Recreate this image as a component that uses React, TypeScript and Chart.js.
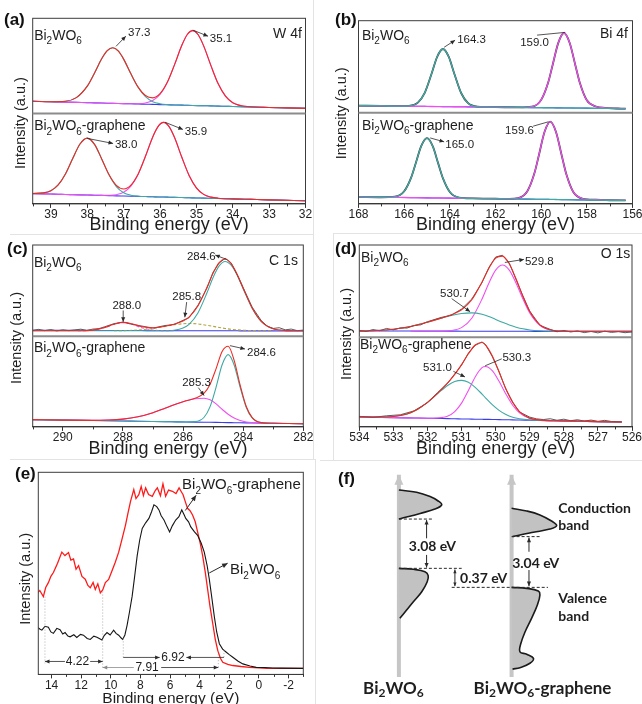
import React, { useEffect, useRef } from 'react';
import { Chart, registerables } from 'chart.js';

Chart.register(...registerables);

const SANS = '"Liberation Sans", Arial, Helvetica, sans-serif';
const CAL = 'Lato, "Open Sans", "DejaVu Sans", sans-serif';
Chart.defaults.font.family = SANS;
Chart.defaults.color = '#222';

// ---------------- (a) W 4f ----------------
const aTopX = [39.5, 39.0, 38.6, 38.3, 38.0, 37.8, 37.6, 37.45, 37.3, 37.15, 37.0, 36.8, 36.6, 36.4, 36.2, 36.0, 35.8, 35.6, 35.4, 35.25, 35.1, 34.95, 34.8, 34.6, 34.4, 34.2, 34.0, 33.6, 33.0, 32.5, 32.0];
const aTopBase = [12.8, 12.3, 11.9, 11.6, 11.3, 11.1, 10.9, 10.75, 10.6, 10.45, 10.3, 10.1, 9.9, 9.7, 9.5, 9.3, 9.1, 8.9, 8.7, 8.55, 8.4, 8.25, 8.1, 7.9, 7.7, 7.5, 7.3, 6.9, 6.3, 5.8, 5.3];
const aTopTeal = [12.8, 12.3, 12.8, 16.6, 28.7, 42.6, 57.7, 66.0, 69.0, 65.7, 57.1, 41.6, 27.3, 17.6, 12.4, 10.2, 9.3, 8.9, 8.7, 8.55, 8.4, 8.25, 8.1, 7.9, 7.7, 7.5, 7.3, 6.9, 6.3, 5.8, 5.3];
const aTopMag = [12.8, 12.3, 11.9, 11.6, 11.3, 11.1, 10.9, 10.75, 10.6, 10.45, 10.3, 10.1, 10.2, 10.9, 13.5, 19.9, 32.5, 51.3, 71.6, 83.0, 87.0, 82.7, 71.0, 50.3, 31.1, 18.1, 11.3, 7.2, 6.3, 5.8, 5.3];
const aTopEnv = [12.8, 12.3, 12.8, 16.6, 28.7, 42.6, 57.7, 66.0, 69.0, 65.7, 57.1, 41.6, 27.6, 18.8, 16.4, 20.8, 32.7, 51.3, 71.6, 83.0, 87.0, 82.7, 71.0, 50.3, 31.1, 18.1, 11.3, 7.2, 6.3, 5.8, 5.3];

const aBotX = [39.5, 39.2, 39.0, 38.8, 38.6, 38.4, 38.2, 38.0, 37.8, 37.6, 37.4, 37.2, 37.0, 36.8, 36.6, 36.4, 36.2, 36.05, 35.9, 35.75, 35.6, 35.4, 35.2, 35.0, 34.8, 34.6, 34.4, 34.0, 33.5, 33.0, 32.0];
const aBotBase = [11.4, 11.1, 10.9, 10.7, 10.4, 10.2, 10.0, 9.8, 9.6, 9.4, 9.2, 8.9, 8.7, 8.5, 8.3, 8.1, 7.9, 7.7, 7.6, 7.4, 7.2, 7.0, 6.8, 6.6, 6.4, 6.2, 6.0, 5.5, 5.0, 4.5, 3.4];
const aBotTeal = [11.5, 12.2, 14.6, 21.0, 33.1, 50.2, 66.2, 72.7, 65.8, 49.4, 31.9, 19.2, 12.4, 9.6, 8.5, 8.1, 7.9, 7.7, 7.6, 7.4, 7.2, 7.0, 6.8, 6.6, 6.4, 6.2, 6.0, 5.5, 5.0, 4.5, 3.4];
const aBotMag = [11.4, 11.1, 10.9, 10.7, 10.4, 10.2, 10.0, 9.8, 9.6, 9.4, 9.5, 10.2, 12.8, 19.7, 32.9, 52.6, 74.0, 85.7, 90.1, 85.4, 73.3, 51.5, 31.4, 17.8, 10.5, 7.5, 6.3, 5.5, 5.0, 4.5, 3.4];
const aBotEnv = [11.5, 12.2, 14.6, 21.0, 33.1, 50.2, 66.2, 72.7, 65.8, 49.4, 32.2, 20.5, 16.5, 20.8, 33.1, 52.6, 74.0, 85.7, 90.1, 85.4, 73.3, 51.5, 31.4, 17.8, 10.5, 7.5, 6.3, 5.5, 5.0, 4.5, 3.4];

// ---------------- (b) Bi 4f ----------------
const bTopX = [168, 167, 166.2, 165.8, 165.4, 165.1, 164.8, 164.55, 164.3, 164.05, 163.8, 163.5, 163.2, 162.8, 162.0, 161.0, 160.4, 160.0, 159.7, 159.5, 159.25, 159.0, 158.75, 158.5, 158.3, 158.0, 157.6, 157.2, 156.5, 156.3];
const bTopBase = [7.6, 7.3, 7.1, 7.0, 6.9, 6.8, 6.7, 6.65, 6.6, 6.5, 6.4, 6.4, 6.3, 6.2, 6.0, 5.7, 5.5, 5.4, 5.3, 5.3, 5.2, 5.1, 5.1, 5.0, 5.0, 4.9, 4.7, 4.6, 4.4, 4.3];
const bTopTeal = [7.6, 7.3, 7.1, 7.4, 10.9, 21.5, 42.3, 61.0, 69.2, 60.8, 42.0, 21.1, 10.3, 6.6, 6.0, 5.7, 5.5, 5.4, 5.3, 5.3, 5.2, 5.1, 5.1, 5.0, 5.0, 4.9, 4.7, 4.6, 4.4, 4.3];
const bTopMag = [7.6, 7.3, 7.1, 7.0, 6.9, 6.8, 6.7, 6.65, 6.6, 6.5, 6.4, 6.4, 6.3, 6.2, 6.0, 5.7, 6.5, 13.9, 32.2, 51.6, 75.9, 86.6, 75.8, 51.3, 31.9, 13.4, 6.7, 5.2, 4.4, 4.3];
const bTopEnv = [7.6, 7.3, 7.1, 7.4, 10.9, 21.5, 42.3, 61.0, 69.2, 60.8, 42.0, 21.1, 10.3, 6.6, 6.0, 5.7, 6.5, 13.9, 32.2, 51.6, 75.9, 86.6, 75.8, 51.3, 31.9, 13.4, 6.7, 5.2, 4.4, 4.3];

const bBotX = [168, 167, 166.4, 166.0, 165.7, 165.5, 165.25, 165.0, 164.75, 164.5, 164.3, 164.0, 163.6, 163.0, 162.0, 161.4, 161.0, 160.6, 160.3, 160.1, 159.85, 159.6, 159.35, 159.1, 158.9, 158.6, 158.2, 157.6, 157.0, 156.3];
const bBotBase = [7.6, 7.3, 7.1, 7.0, 6.9, 6.8, 6.7, 6.6, 6.5, 6.5, 6.4, 6.3, 6.2, 6.0, 5.7, 5.5, 5.3, 5.2, 5.1, 5.0, 5.0, 4.9, 4.8, 4.7, 4.6, 4.5, 4.4, 4.2, 4.0, 3.8];
const bBotTeal = [7.6, 7.3, 7.9, 13.8, 28.5, 43.9, 63.5, 72.0, 63.3, 43.6, 28.0, 13.1, 7.0, 6.0, 5.7, 5.5, 5.3, 5.2, 5.1, 5.0, 5.0, 4.9, 4.8, 4.7, 4.6, 4.5, 4.4, 4.2, 4.0, 3.8];
const bBotMag = [7.6, 7.3, 7.1, 7.0, 6.9, 6.8, 6.7, 6.6, 6.5, 6.5, 6.4, 6.3, 6.2, 6.0, 5.7, 5.5, 6.3, 14.1, 33.2, 53.4, 79.0, 90.1, 78.8, 53.1, 32.7, 13.4, 5.9, 4.6, 4.0, 3.8];
const bBotEnv = [7.6, 7.3, 7.9, 13.8, 28.5, 43.9, 63.5, 72.0, 63.3, 43.6, 28.0, 13.1, 7.0, 6.0, 5.7, 5.5, 6.3, 14.1, 33.2, 53.4, 79.0, 90.1, 78.8, 53.1, 32.7, 13.4, 5.9, 4.6, 4.0, 3.8];

// ---------------- (c) C 1s ----------------
const cTopX = [291, 290.5, 290, 289.5, 289, 288.6, 288.3, 288.0, 287.7, 287.4, 287.0, 286.6, 286.3, 286.0, 285.8, 285.5, 285.2, 285.0, 284.8, 284.6, 284.4, 284.2, 284.0, 283.7, 283.4, 283.0, 282.5, 282];
const cTopBase = [6.6, 6.6, 6.5, 6.5, 6.4, 6.4, 6.4, 6.3, 6.3, 6.3, 6.2, 6.2, 6.2, 6.1, 6.1, 6.1, 6.1, 6.0, 6.0, 6.0, 6.0, 6.0, 5.9, 5.9, 5.9, 5.9, 5.8, 5.8];
const cTopTeal = [6.0, 6.0, 6.0, 6.0, 6.0, 6.0, 6.0, 6.0, 6.0, 6.0, 6.0, 6.0, 6.6, 9.0, 13.0, 25.9, 47.9, 64.4, 77.1, 82.0, 77.9, 66.9, 52.1, 30.7, 16.3, 8.2, 6.2, 6.0];
const cTopYel = [null, null, null, null, null, null, 6.0, 6.2, 6.5, 7.1, 8.6, 10.9, 12.6, 13.8, 14.0, 13.5, 12.0, 10.9, 9.7, 8.6, 7.7, 7.1, 6.6, 6.3, 6.1, 6.0, null, null];
const cTopC288 = [null, null, null, 6.0, 6.8, 9.7, 13.2, 15.0, 13.2, 9.7, 6.8, 6.1, 6.0, null, null, null, null, null, null, null, null, null, null, null, null, null, null, null];
const cTopEnv = [6.0, 6.0, 6.0, 6.0, 6.8, 9.7, 13.2, 15.2, 13.7, 10.8, 9.4, 11.0, 13.2, 16.8, 21.0, 33.4, 53.9, 69.3, 80.8, 84.6, 79.6, 68.0, 52.7, 31.0, 16.4, 8.2, 6.2, 6.0];
const cTopRawX = [291, 290.8, 290.6, 290.4, 290.2, 290.0, 289.8, 289.6, 289.4, 289.2, 289.0, 288.8, 288.6, 288.3, 288.0, 287.7, 287.4, 287.0, 286.6, 286.3, 286.0, 285.8, 285.5, 285.2, 285.0, 284.8, 284.6, 284.4, 284.2, 284.0, 283.7, 283.4, 283.2, 283.0, 282.8, 282.6, 282.4, 282.2, 282.0];
const cTopRawY = [6.5, 7.6, 6.2, 7.4, 5.9, 7.1, 6.2, 7.0, 7.8, 6.4, 7.9, 8.4, 10.5, 13.8, 15.6, 13.1, 11.4, 9.0, 11.8, 12.9, 17.5, 20.4, 34.2, 53.0, 70.1, 80.2, 85.3, 80.4, 67.5, 53.4, 31.9, 17.3, 11.0, 8.6, 9.4, 7.1, 7.9, 6.2, 6.8];

const cBotX = [291, 290, 289, 288.5, 288, 287.5, 287, 286.6, 286.2, 285.9, 285.6, 285.3, 285.1, 284.9, 284.7, 284.5, 284.3, 284.1, 283.9, 283.7, 283.4, 283.0, 282.5, 282];
const cBotBase = [8.0, 7.5, 7.0, 6.75, 6.5, 6.25, 6.0, 5.8, 5.6, 5.45, 5.3, 5.15, 5.05, 4.95, 4.85, 4.75, 4.65, 4.55, 4.45, 4.35, 4.2, 4.0, 3.75, 3.5];
const cBotMag = [8.0, 7.5, 7.2, 7.55, 8.6, 11.15, 15.7, 20.5, 25.6, 28.85, 31.0, 31.65, 29.85, 25.35, 19.45, 13.95, 9.75, 7.05, 5.45, 4.75, 4.2, 4.0, 3.75, 3.5];
const cBotTeal = [8.0, 7.5, 7.0, 6.75, 6.5, 6.25, 6.0, 5.8, 5.6, 5.45, 5.8, 10.65, 22.35, 43.95, 68.55, 79.75, 68.35, 43.55, 21.75, 9.85, 4.7, 4.0, 3.75, 3.5];
const cBotEnv = [8.0, 7.5, 7.2, 7.55, 8.6, 11.15, 15.7, 20.5, 25.6, 28.85, 31.5, 37.15, 47.15, 64.35, 83.15, 88.95, 73.45, 46.05, 22.75, 10.25, 4.7, 4.0, 3.75, 3.5];

// ---------------- (d) O 1s ----------------
const dTopX = [534, 533.5, 533, 532.5, 532, 531.6, 531.3, 531.0, 530.7, 530.4, 530.2, 530.0, 529.8, 529.6, 529.4, 529.2, 529.0, 528.7, 528.4, 528.0, 527.5, 527, 526];
const dTopBase = [6.9, 6.9, 6.8, 6.8, 6.7, 6.7, 6.7, 6.6, 6.6, 6.6, 6.6, 6.5, 6.5, 6.5, 6.5, 6.5, 6.5, 6.4, 6.4, 6.4, 6.3, 6.3, 6.2];
const dTopTeal = [6.7, 7.3, 8.7, 11.7, 16.4, 20.8, 23.7, 25.8, 26.5, 25.0, 22.5, 19.4, 16.2, 13.3, 11.0, 9.2, 8.0, 7.1, 6.7, 6.5, 6.5, 6.5, 6.5];
const dTopMag = [null, null, null, 6.5, 6.5, 6.5, 7.3, 10.5, 20.7, 41.5, 58.6, 72.8, 78.3, 72.8, 58.6, 41.5, 26.4, 12.9, 7.9, 6.6, 6.5, 6.5, 6.5];
const dTopEnv = [6.7, 7.3, 8.7, 11.7, 16.4, 20.8, 24.5, 29.8, 40.7, 60.0, 74.6, 85.7, 88.0, 79.6, 63.1, 44.2, 27.9, 13.5, 8.1, 6.6, 6.5, 6.5, 6.5];
const dTopRawX = [534, 533.8, 533.6, 533.4, 533.2, 533.0, 532.8, 532.6, 532.4, 532.2, 532.0, 531.6, 531.3, 531.0, 530.7, 530.4, 530.2, 530.0, 529.8, 529.6, 529.4, 529.2, 529.0, 528.7, 528.4, 528.2, 528.0, 527.8, 527.6, 527.4, 527.2, 527.0, 526.8, 526.6, 526.4, 526.2, 526.0];
const dTopRawY = [7.5, 6.3, 8.4, 7.2, 9.6, 8.1, 10.2, 10.0, 12.6, 13.5, 16.9, 21.5, 24.0, 30.6, 41.5, 59.2, 75.6, 87.0, 88.9, 80.3, 62.4, 44.9, 28.4, 13.0, 8.6, 6.0, 7.4, 5.8, 6.9, 5.1, 6.3, 4.8, 6.6, 5.3, 6.1, 5.0, 5.9];

const dBotX = [534, 533.5, 533, 532.6, 532.3, 532.0, 531.7, 531.4, 531.2, 531.0, 530.8, 530.6, 530.4, 530.3, 530.1, 529.9, 529.7, 529.5, 529.3, 529.0, 528.7, 528.3, 528, 527.5, 527, 526.3];
const dBotBase = [11.2, 10.8, 10.4, 10.1, 9.9, 9.7, 9.5, 9.2, 9.1, 8.9, 8.8, 8.6, 8.5, 8.4, 8.3, 8.1, 8.0, 7.8, 7.7, 7.4, 7.2, 6.9, 6.7, 6.3, 5.9, 5.4];
const dBotTeal = [11.2, 11.0, 11.6, 14.5, 19.5, 27.4, 37.3, 46.5, 50.6, 51.9, 49.8, 44.2, 36.6, 32.5, 24.8, 18.4, 13.8, 10.8, 9.1, 7.8, 7.2, 6.9, 6.7, 6.3, 5.9, 5.4];
const dBotMag = [11.2, 10.8, 10.4, 10.1, 9.9, 9.7, 10.0, 12.2, 17.1, 26.5, 40.6, 55.8, 66.1, 67.4, 62.8, 50.9, 36.7, 24.2, 15.7, 9.4, 7.6, 6.9, 6.7, 6.3, 5.9, 5.4];
const dBotEnv = [11.2, 11.0, 11.6, 14.5, 19.5, 27.4, 37.8, 49.5, 58.6, 69.5, 81.6, 91.4, 94.2, 91.5, 79.3, 61.2, 42.5, 27.2, 17.1, 9.8, 7.6, 6.9, 6.7, 6.3, 5.9, 5.4];
const dBotRawX = [534, 533.6, 533.2, 532.8, 532.4, 532.0, 531.7, 531.4, 531.2, 531.0, 530.8, 530.6, 530.4, 530.3, 530.1, 529.9, 529.7, 529.5, 529.3, 529.0, 528.8, 528.6, 528.4, 528.2, 528.0, 527.8, 527.6, 527.4, 527.2, 527.0, 526.8, 526.6, 526.3];
const dBotRawY = [11.8, 10.6, 12.4, 13.5, 17.8, 27.0, 38.4, 49.0, 59.1, 69.0, 82.3, 91.0, 94.8, 92.0, 78.6, 61.8, 42.0, 27.8, 16.6, 10.9, 9.0, 8.2, 9.1, 7.4, 8.6, 6.9, 8.0, 6.5, 7.6, 6.2, 7.3, 6.0, 5.6];

// ---------------- (e) valence band ----------------
const eRedX = [15.0, 14.8, 14.56, 14.4, 14.22, 14.05, 13.88, 13.6, 13.31, 13.1, 12.86, 12.7, 12.52, 12.35, 12.18, 11.95, 11.73, 11.55, 11.39, 11.2, 11.05, 10.88, 10.71, 10.55, 10.37, 10.15, 9.92, 9.7, 9.47, 9.25, 9.01, 8.85, 8.67, 8.45, 8.3, 8.11, 7.95, 7.8, 7.65, 7.45, 7.2, 7.0, 6.86, 6.65, 6.48, 6.3, 6.1, 5.84, 5.6, 5.39, 5.25, 5.12, 4.95, 4.82, 4.65, 4.48, 4.3, 4.14, 3.95, 3.8, 3.62, 3.46, 3.3, 3.12, 2.95, 2.78, 2.6, 2.44, 2.1, 1.76, 1.2, 0.63, 0.0, -0.5, -1.5, -3.0];
const eRedY = [40.0, 41.5, 38.5, 43.0, 45.4, 48.5, 50.4, 55.0, 60.5, 58.8, 60.3, 56.5, 57.1, 52.0, 53.8, 48.5, 47.1, 44.0, 42.9, 45.5, 42.0, 44.8, 40.3, 41.8, 45.4, 47.0, 51.3, 55.5, 60.5, 66.8, 73.9, 79.5, 85.6, 91.5, 87.0, 88.9, 93.0, 88.5, 92.3, 89.0, 88.1, 91.0, 92.3, 88.4, 94.3, 88.1, 91.2, 90.6, 89.5, 92.3, 90.5, 88.9, 85.0, 82.2, 81.0, 78.9, 75.5, 70.5, 64.5, 58.8, 50.5, 42.0, 33.5, 25.3, 17.5, 11.9, 8.0, 6.0, 5.0, 4.4, 3.9, 3.5, 3.2, 3.0, 3.0, 3.0];
const eBlackX = [15.0, 14.8, 14.66, 14.45, 14.22, 14.05, 13.88, 13.65, 13.43, 13.25, 13.09, 12.9, 12.75, 12.5, 12.3, 12.05, 11.85, 11.6, 11.39, 11.15, 10.94, 10.75, 10.6, 10.45, 10.26, 10.05, 9.81, 9.65, 9.47, 9.3, 9.2, 9.05, 8.9, 8.75, 8.56, 8.4, 8.22, 8.05, 7.88, 7.65, 7.43, 7.25, 7.09, 6.9, 6.75, 6.6, 6.41, 6.2, 6.03, 5.85, 5.62, 5.4, 5.21, 5.05, 4.94, 4.75, 4.6, 4.35, 4.14, 3.9, 3.69, 3.5, 3.35, 3.18, 3.01, 2.85, 2.67, 2.45, 2.22, 2.0, 1.76, 1.4, 1.08, 0.6, 0.18, -0.4, -0.95, -1.5, -3.0];
const eBlackY = [23.6, 22.5, 21.9, 23.8, 23.3, 21.0, 20.3, 22.8, 22.1, 20.0, 20.7, 19.0, 18.6, 19.6, 18.3, 19.8, 19.4, 17.8, 17.3, 18.9, 18.4, 17.6, 17.0, 19.2, 20.7, 19.5, 21.9, 20.3, 19.4, 18.0, 17.3, 19.5, 24.4, 30.5, 38.7, 48.0, 58.8, 66.5, 72.2, 75.0, 77.2, 80.5, 83.9, 83.0, 81.4, 78.5, 76.4, 73.0, 70.5, 73.5, 76.4, 78.0, 81.4, 79.0, 77.2, 75.5, 73.0, 70.5, 68.8, 65.0, 60.5, 54.0, 47.1, 38.0, 28.6, 21.0, 15.2, 12.5, 11.1, 9.8, 8.5, 6.5, 5.2, 4.2, 3.5, 3.4, 3.2, 3.1, 3.0];
const eEdges = [14.45, 10.55, 9.16, 2.36, 2.74];
const eGaps = ['4.22', '6.92', '7.91'];

// ---------------- (f) band schematic ----------------
const fLeftCBx = [24.5, 30.0, 34.2, 36.7, 37.8, 35.7, 31.1, 26.9, 24.5];
const fLeftCBy = [87.7, 86.8, 85.0, 83.2, 81.6, 79.9, 78.1, 76.6, 75.8];
const fLeftVBx = [24.5, 29.0, 32.6, 33.6, 33.3, 31.6, 29.0, 26.9, 24.8];
const fLeftVBy = [55.6, 55.2, 54.2, 52.6, 50.1, 46.0, 41.9, 38.5, 35.1];
const fRightCBx = [59.5, 64.2, 68.3, 71.9, 73.5, 71.4, 66.3, 62.1, 59.8];
const fRightCBy = [80.2, 79.1, 77.5, 75.0, 73.1, 71.7, 70.4, 69.3, 68.6];
const fRightVBx = [59.5, 64.2, 67.8, 68.3, 67.5, 65.7, 63.7, 62.4, 62.1, 64.2, 66.3, 65.2, 62.1, 59.8];
const fRightVBy = [47.8, 47.4, 46.3, 44.7, 40.6, 35.1, 29.6, 24.9, 21.4, 20.4, 18.7, 16.7, 14.9, 14.3];
const fGaps = ['3.08 eV', '0.37 eV', '3.04 eV'];

// ---------------- colours ----------------
const C_RED = '#ee2a24';
const C_RAW = '#4a4a4a';
const C_TEAL = '#3fa9a3';
const C_MAG = '#f04ff0';
const C_BASE = '#3a3af0';
const C_YEL = '#b0a43c';

// ---------------- helpers ----------------
function drawRich(ctx: CanvasRenderingContext2D, s: string, x: number, y: number, size: number, align: string, base: CanvasTextBaseline, bold: boolean, family: string) {
  const parts: { t: string; sub: boolean; w: number }[] = [];
  for (let i = 0; i < s.length; i++) {
    if (s[i] === '_' && i + 1 < s.length) {
      parts.push({ t: s[i + 1], sub: true, w: 0 });
      i++;
    } else {
      const last = parts[parts.length - 1];
      if (last && !last.sub) last.t += s[i];
      else parts.push({ t: s[i], sub: false, w: 0 });
    }
  }
  const fnt = (sub: boolean) => `${bold ? 'bold ' : ''}${sub ? Math.round(size * 0.68) : size}px ${family}`;
  let total = 0;
  for (const p of parts) {
    ctx.font = fnt(p.sub);
    p.w = ctx.measureText(p.t).width;
    total += p.w;
  }
  let cx = align === 'left' ? x : align === 'right' ? x - total : x - total / 2;
  ctx.textAlign = 'left';
  ctx.textBaseline = base;
  for (const p of parts) {
    ctx.font = fnt(p.sub);
    ctx.fillText(p.t, cx, y + (p.sub ? size * 0.3 : 0));
    cx += p.w;
  }
}

function arrowHead(ctx: CanvasRenderingContext2D, x1: number, y1: number, x2: number, y2: number, size: number) {
  const ang = Math.atan2(y2 - y1, x2 - x1);
  ctx.beginPath();
  ctx.moveTo(x2, y2);
  ctx.lineTo(x2 - size * Math.cos(ang - 0.42), y2 - size * Math.sin(ang - 0.42));
  ctx.lineTo(x2 - size * Math.cos(ang + 0.42), y2 - size * Math.sin(ang + 0.42));
  ctx.closePath();
  ctx.fill();
}

type Ann = {
  k: 't' | 'a';
  ax?: string;
  x: number; y: number; x2?: number; y2?: number;
  s?: string; size?: number; align?: string; base?: CanvasTextBaseline; bold?: boolean; fam?: string;
  head?: 'end' | 'both' | 'none'; color?: string; lw?: number; dash?: number[]; hs?: number; under?: boolean;
};

const T = (ax: string, x: number, y: number, s: string, extra: Partial<Ann> = {}): Ann => ({ k: 't', ax, x, y, s, size: 11.5, align: 'left', base: 'middle', ...extra });
const A = (ax: string, x: number, y: number, x2: number, y2: number, extra: Partial<Ann> = {}): Ann => ({ k: 'a', ax, x, y, x2, y2, head: 'end', ...extra });

type Deco = {
  frame?: boolean; divider?: boolean; minor?: number; step?: number;
  ann?: Ann[]; label?: string; lx?: number; ly?: number; ydx?: number; ydy?: number;
  fills?: { index: number; color: string }[];
};

function decoPlugin(cfg: Deco) {
  const drawAnn = (chart: any, under: boolean) => {
    const ctx: CanvasRenderingContext2D = chart.ctx;
    const xs = chart.scales.x;
    for (const n of cfg.ann || []) {
      if (!!n.under !== under) continue;
      const ys = chart.scales[n.ax || 'y'];
      const px = xs.getPixelForValue(n.x);
      const py = ys.getPixelForValue(n.y);
      ctx.save();
      if (n.k === 't') {
        ctx.fillStyle = n.color || '#1e1e1e';
        drawRich(ctx, n.s || '', px, py, n.size || 12, n.align || 'left', n.base || 'middle', !!n.bold, n.fam || SANS);
      } else {
        const qx = xs.getPixelForValue(n.x2);
        const qy = ys.getPixelForValue(n.y2);
        const col = n.color || '#2a2a2a';
        ctx.strokeStyle = col;
        ctx.fillStyle = col;
        ctx.lineWidth = n.lw || 0.8;
        ctx.setLineDash(n.dash || []);
        ctx.beginPath();
        ctx.moveTo(px, py);
        ctx.lineTo(qx, qy);
        ctx.stroke();
        ctx.setLineDash([]);
        const hs = n.hs || 5;
        if (n.head === 'end' || n.head === 'both') arrowHead(ctx, px, py, qx, qy, hs);
        if (n.head === 'both') arrowHead(ctx, qx, qy, px, py, hs);
      }
      ctx.restore();
    }
  };
  return {
    id: 'deco',
    beforeDatasetsDraw(chart: any) {
      drawAnn(chart, true);
      const ctx: CanvasRenderingContext2D = chart.ctx;
      for (const f of cfg.fills || []) {
        const pts = chart.getDatasetMeta(f.index).data as any[];
        if (!pts.length) continue;
        ctx.save();
        ctx.fillStyle = f.color;
        ctx.beginPath();
        ctx.moveTo(pts[0].x, pts[0].y);
        for (let i = 1; i < pts.length; i++) {
          const p = pts[i - 1];
          const c = pts[i];
          if (p.cp2x !== undefined && c.cp1x !== undefined) ctx.bezierCurveTo(p.cp2x, p.cp2y, c.cp1x, c.cp1y, c.x, c.y);
          else ctx.lineTo(c.x, c.y);
        }
        ctx.closePath();
        ctx.fill();
        ctx.restore();
      }
    },
    afterDraw(chart: any) {
      const ctx: CanvasRenderingContext2D = chart.ctx;
      const a = chart.chartArea;
      ctx.save();
      if (cfg.frame) {
        ctx.strokeStyle = '#3c3c3c';
        ctx.lineWidth = 1;
        ctx.strokeRect(a.left, a.top, a.right - a.left, a.bottom - a.top);
      }
      if (cfg.divider && chart.scales.yTop) {
        const y = chart.scales.yTop.bottom;
        ctx.strokeStyle = '#8c8c8c';
        ctx.lineWidth = 2;
        ctx.beginPath();
        ctx.moveTo(a.left, y);
        ctx.lineTo(a.right, y);
        ctx.stroke();
      }
      if (cfg.minor && cfg.step) {
        const xs = chart.scales.x;
        ctx.strokeStyle = '#333';
        ctx.lineWidth = 1;
        const n0 = Math.ceil(xs.min / cfg.minor - 1e-9);
        const n1 = Math.floor(xs.max / cfg.minor + 1e-9);
        for (let n = n0; n <= n1; n++) {
          const v = n * cfg.minor;
          const r = v / cfg.step;
          if (Math.abs(r - Math.round(r)) < 1e-6) continue;
          const px = Math.round(xs.getPixelForValue(v)) + 0.5;
          ctx.beginPath();
          ctx.moveTo(px, a.bottom);
          ctx.lineTo(px, a.bottom + 2.5);
          ctx.stroke();
        }
      }
      if (cfg.ydx !== undefined) {
        ctx.save();
        ctx.translate(a.left - cfg.ydx, (a.top + a.bottom) / 2 + (cfg.ydy || 0));
        ctx.rotate(-Math.PI / 2);
        ctx.fillStyle = '#1e1e1e';
        ctx.font = `14.5px ${SANS}`;
        ctx.textAlign = 'center';
        ctx.textBaseline = 'middle';
        ctx.fillText('Intensity (a.u.)', 0, 0);
        ctx.restore();
      }
      if (cfg.label) {
        ctx.fillStyle = '#111';
        ctx.font = `bold 17px ${SANS}`;
        ctx.textAlign = 'left';
        ctx.textBaseline = 'top';
        ctx.fillText(cfg.label, cfg.lx || 0, cfg.ly || 0);
      }
      ctx.restore();
      drawAnn(chart, false);
    },
  };
}

function series(xs: number[], ys: (number | null)[], color: string, axis: string, width: number, dash?: number[], straight?: boolean) {
  return {
    data: xs.map((x, i) => ({ x, y: ys[i] })),
    borderColor: color,
    backgroundColor: color,
    borderWidth: width,
    borderDash: dash || [],
    yAxisID: axis,
    xAxisID: 'x',
    pointRadius: 0,
    fill: false,
    tension: 0,
    cubicInterpolationMode: straight ? 'default' : 'monotone',
  };
}

type Sub = {
  x: number[]; env: number[]; envColor: string; base: number[]; envBelow?: boolean;
  comps: { y: (number | null)[]; color: string; dash?: number[] }[];
  rawX?: number[]; rawY?: number[];
};

function subSets(s: Sub, axis: string) {
  const out: any[] = [];
  if (!s.envBelow) out.push(series(s.x, s.env, s.envColor, axis, 1.1));
  if (s.rawX && s.rawY) out.push(series(s.rawX, s.rawY, C_RAW, axis, 0.9, undefined, true));
  for (const c of s.comps) out.push(series(s.x, c.y, c.color, axis, s.envBelow ? 1.3 : 1.1, c.dash));
  if (s.envBelow) out.push(series(s.x, s.env, s.envColor, axis, 1.8));
  out.push(series(s.x, s.base, C_BASE, axis, 1.1));
  return out;
}

const xScale = (min: number, max: number, step: number, titleSize: number, h: number) => ({
  type: 'linear',
  min,
  max,
  reverse: true,
  ticks: { stepSize: step, includeBounds: false, autoSkip: false, maxRotation: 0, minRotation: 0, padding: 0, font: { size: 12, family: SANS }, color: '#222' },
  grid: { display: true, drawOnChartArea: false, drawTicks: true, tickLength: 4, color: '#333', lineWidth: 1 },
  border: { display: true, color: '#333', width: 1 },
  title: { display: true, text: 'Binding energy (eV)', font: { size: titleSize, family: SANS }, color: '#1e1e1e', padding: 0 },
  afterFit: (s: any) => {
    s.height = h;
    s.paddingLeft = 0;
    s.paddingRight = 0;
  },
});

const yScale = (w: number, weight?: number) => ({
  type: 'linear',
  position: 'left',
  ...(weight !== undefined ? { stack: 'p', stackWeight: weight } : {}),
  min: 0,
  max: 100,
  ticks: { display: false },
  grid: { display: false, drawTicks: false },
  border: { display: false },
  afterFit: (s: any) => {
    s.width = w;
  },
});

type XpsSpec = {
  xmin: number; xmax: number; step: number; minor: number;
  W: number; l: number; r: number; t: number; d: number; b: number; titleC: number;
  top: Sub; bot: Sub; ann: Ann[]; label: string; lx: number; ly: number; ydx: number; ydy: number;
};

function xpsConfig(o: XpsSpec) {
  const titleSize = 18;
  const xH = o.titleC + titleSize * 0.6 - o.b;
  return {
    type: 'line',
    data: { datasets: [...subSets(o.top, 'yTop'), ...subSets(o.bot, 'yBot')] },
    options: {
      responsive: false,
      animation: false,
      events: [],
      layout: { padding: { left: 0, top: o.t, right: o.W - o.r, bottom: 0 } },
      plugins: { legend: { display: false }, tooltip: { enabled: false } },
      scales: {
        x: xScale(o.xmin, o.xmax, o.step, titleSize, xH),
        yBot: yScale(o.l, o.b - o.d),
        yTop: yScale(o.l, o.d - o.t),
      },
    },
    plugins: [decoPlugin({ frame: true, divider: true, minor: o.minor, step: o.step, ann: o.ann, label: o.label, lx: o.lx, ly: o.ly, ydx: o.ydx, ydy: o.ydy })],
  };
}

// ---------------- panel configs ----------------
const cfgA = () => xpsConfig({
  xmin: 32, xmax: 39.5, step: 1, minor: 0.5,
  W: 318, l: 32.7, r: 305.5, t: 18.3, d: 112.3, b: 201.7, titleC: 223,
  top: { x: aTopX, env: aTopEnv, envColor: C_RED, base: aTopBase, comps: [{ y: aTopTeal, color: C_TEAL }, { y: aTopMag, color: C_MAG }] },
  bot: { x: aBotX, env: aBotEnv, envColor: C_RED, base: aBotBase, comps: [{ y: aBotTeal, color: C_TEAL }, { y: aBotMag, color: C_MAG }] },
  ann: [
    T('yTop', 39.46, 76.9, 'Bi_2WO_6', { size: 14, base: 'alphabetic' }),
    T('yTop', 32.1, 79.0, 'W 4f', { size: 14, base: 'alphabetic', align: 'right' }),
    T('yTop', 36.88, 84.4, '37.3'),
    A('yTop', 37.21, 70.5, 36.94, 81.2),
    T('yTop', 34.63, 78.0, '35.1'),
    A('yTop', 35.1, 87.6, 34.68, 81.2),
    T('yBot', 39.46, 81.3, 'Bi_2WO_6-graphene', { size: 14, base: 'alphabetic' }),
    T('yBot', 37.24, 65.4, '38.0'),
    A('yBot', 38.0, 72.4, 37.29, 66.8),
    T('yBot', 35.32, 79.8, '35.9'),
    A('yBot', 35.86, 90.2, 35.37, 82.3),
  ],
  label: '(a)', lx: 4, ly: 12, ydx: 12, ydy: 12,
});

const cfgB = () => xpsConfig({
  xmin: 156, xmax: 168, step: 2, minor: 1,
  W: 322, l: 38.5, r: 312.5, t: 20.7, d: 111.7, b: 202, titleC: 223.3,
  top: { x: bTopX, env: bTopEnv, envColor: '#3a3a3a', envBelow: true, base: bTopBase, comps: [{ y: bTopTeal, color: C_TEAL }, { y: bTopMag, color: C_MAG }] },
  bot: { x: bBotX, env: bBotEnv, envColor: '#3a3a3a', envBelow: true, base: bBotBase, comps: [{ y: bBotTeal, color: C_TEAL }, { y: bBotMag, color: C_MAG }] },
  ann: [
    T('yTop', 167.85, 78.8, 'Bi_2WO_6', { size: 14, base: 'alphabetic' }),
    T('yTop', 156.2, 81.0, 'Bi 4f', { size: 14, base: 'alphabetic', align: 'right' }),
    T('yTop', 163.68, 78.8, '164.3'),
    A('yTop', 164.25, 71.1, 163.77, 78.8),
    T('yTop', 160.92, 75.5, '159.0'),
    A('yTop', 158.95, 87.3, 160.18, 84.3, { head: 'none' }),
    T('yBot', 167.85, 80.8, 'Bi_2WO_6-graphene', { size: 14, base: 'alphabetic' }),
    T('yBot', 164.2, 64.2, '165.0'),
    A('yBot', 164.86, 72.3, 164.25, 68.0),
    T('yBot', 161.58, 79.7, '159.6'),
    A('yBot', 159.68, 90.0, 160.35, 85.2, { head: 'none' }),
  ],
  label: '(b)', lx: 15, ly: 12, ydx: 16.8, ydy: 1,
});

const cfgC = () => xpsConfig({
  xmin: 282, xmax: 291, step: 2, minor: 1,
  W: 318, l: 32.7, r: 303.3, t: 9, d: 99.7, b: 189.7, titleC: 212,
  top: {
    x: cTopX, env: cTopEnv, envColor: C_RED, base: cTopBase,
    comps: [{ y: cTopTeal, color: C_TEAL }, { y: cTopYel, color: C_YEL, dash: [3, 2] }, { y: cTopC288, color: C_MAG, dash: [3, 2] }],
    rawX: cTopRawX, rawY: cTopRawY,
  },
  bot: { x: cBotX, env: cBotEnv, envColor: C_RED, base: cBotBase, comps: [{ y: cBotTeal, color: C_TEAL }, { y: cBotMag, color: C_MAG }] },
  ann: [
    T('yTop', 290.96, 76.1, 'Bi_2WO_6', { size: 14, base: 'alphabetic' }),
    T('yTop', 282.18, 77.9, 'C 1s', { size: 14, base: 'alphabetic', align: 'right' }),
    T('yTop', 285.87, 86.8, '284.6'),
    A('yTop', 284.55, 84.2, 284.93, 89.0),
    T('yTop', 287.87, 33.8, '288.0', { align: 'center' }),
    A('yTop', 287.99, 28.3, 287.99, 16.0),
    T('yTop', 285.88, 42.7, '285.8', { align: 'center' }),
    A('yTop', 285.88, 37.5, 285.94, 20.8),
    T('yBot', 290.96, 82.2, 'Bi_2WO_6-graphene', { size: 14, base: 'alphabetic' }),
    T('yBot', 283.87, 81.9, '284.6'),
    A('yBot', 284.44, 89.7, 283.94, 86.0),
    T('yBot', 285.55, 48.6, '285.3', { align: 'center' }),
    A('yBot', 285.49, 43.3, 285.3, 34.6),
  ],
  label: '(c)', lx: 7, ly: 5, ydx: 15.4, ydy: 2,
});

const cfgD = () => xpsConfig({
  xmin: 526, xmax: 534, step: 1, minor: 0.5,
  W: 322, l: 39.3, r: 312, t: 9, d: 100.7, b: 189.7, titleC: 212,
  top: {
    x: dTopX, env: dTopEnv, envColor: C_RED, base: dTopBase,
    comps: [{ y: dTopTeal, color: C_TEAL }, { y: dTopMag, color: C_MAG }],
    rawX: dTopRawX, rawY: dTopRawY,
  },
  bot: {
    x: dBotX, env: dBotEnv, envColor: C_RED, base: dBotBase,
    comps: [{ y: dBotTeal, color: C_TEAL }, { y: dBotMag, color: C_MAG }],
    rawX: dBotRawX, rawY: dBotRawY,
  },
  ann: [
    T('yTop', 533.95, 81.8, 'Bi_2WO_6', { size: 14, base: 'alphabetic' }),
    T('yTop', 526.05, 85.5, 'O 1s', { size: 14, base: 'alphabetic', align: 'right' }),
    T('yTop', 529.14, 81.5, '529.8'),
    A('yTop', 529.73, 81.1, 529.17, 84.4),
    T('yTop', 531.63, 46.6, '530.7'),
    A('yTop', 531.29, 41.9, 530.75, 27.8),
    T('yBot', 533.98, 87.0, 'Bi_2WO_6-graphene', { size: 14, base: 'alphabetic' }),
    T('yBot', 532.13, 66.0, '531.0'),
    A('yBot', 531.24, 62.0, 530.9, 55.8),
    T('yBot', 529.8, 77.2, '530.3'),
    A('yBot', 530.31, 68.2, 529.82, 76.0, { head: 'none' }),
  ],
  label: '(d)', lx: 15, ly: 5, ydx: 12.6, ydy: -2,
});

const cfgE = () => {
  const l = 38.3, r = 303.3, t = 12.3, b = 211.7, W = 318, titleSize = 15.5, titleC = 236;
  const grey = '#9a9a9a';
  return {
    type: 'line',
    data: {
      datasets: [
        series(eBlackX, eBlackY, '#151515', 'y', 1.1, undefined, true),
        series(eRedX, eRedY, '#ff1a1a', 'y', 1.3, undefined, true),
      ],
    },
    options: {
      responsive: false,
      animation: false,
      events: [],
      layout: { padding: { left: 0, top: t, right: W - r, bottom: 0 } },
      plugins: { legend: { display: false }, tooltip: { enabled: false } },
      scales: {
        x: xScale(-3.0, 14.9, 2, titleSize, titleC + titleSize * 0.6 - b),
        y: yScale(l),
      },
    },
    plugins: [decoPlugin({
      frame: true, minor: 1, step: 2, label: '(e)', lx: 15, ly: 6, ydx: 12.6, ydy: 5.5,
      ann: [
        T('y', 5.19, 91.6, 'Bi_2WO_6-graphene', { size: 15, base: 'alphabetic' }),
        A('y', 4.97, 81.1, 4.24, 88.6, { lw: 1, hs: 6 }),
        T('y', 1.95, 49.5, 'Bi_2WO_6', { size: 15, base: 'alphabetic' }),
        A('y', 3.35, 50.2, 2.11, 55.0, { lw: 1, hs: 6 }),
        A('y', eEdges[0], 38.5, eEdges[0], 5.5, { head: 'none', color: grey, dash: [1, 2] }),
        A('y', eEdges[1], 41.0, eEdges[1], 2.5, { head: 'none', color: grey, dash: [1, 2] }),
        A('y', eEdges[2], 17.8, eEdges[2], 7.6, { head: 'none', color: grey, dash: [1, 2] }),
        A('y', eEdges[3], 12.0, eEdges[3], 7.6, { head: 'none', color: grey, dash: [1, 2] }),
        A('y', eEdges[4], 11.5, eEdges[4], 2.6, { head: 'none', color: grey, dash: [1, 2] }),
        T('y', 12.25, 6.4, eGaps[0], { size: 12, align: 'center' }),
        A('y', 13.1, 6.4, eEdges[0], 6.4),
        A('y', 11.4, 6.4, eEdges[1], 6.4),
        T('y', 5.8, 8.4, eGaps[1], { size: 12, align: 'center' }),
        A('y', eEdges[2], 8.4, 6.7, 8.4),
        A('y', eEdges[3], 8.4, 4.9, 8.4),
        T('y', 7.55, 3.4, eGaps[2], { size: 12, align: 'center' }),
        A('y', 8.45, 3.4, eEdges[1], 3.4, { color: '#8a8a8a' }),
        A('y', 6.6, 3.4, eEdges[4], 3.4),
      ],
    })],
  };
};

const cfgF = () => {
  const shape = (xs: number[], ys: number[]) => ({
    data: xs.map((x, i) => ({ x, y: ys[i] })),
    borderColor: '#1a1a1a',
    borderWidth: 1.6,
    pointRadius: 0,
    fill: false,
    tension: 0.4,
  });
  const dark = '#2a2a2a';
  const axisGrey = '#c6c6c6';
  const bf = { size: 14, bold: true, fam: CAL };
  return {
    type: 'line',
    data: {
      datasets: [
        shape(fLeftCBx, fLeftCBy),
        shape(fLeftVBx, fLeftVBy),
        shape(fRightCBx, fRightCBy),
        shape(fRightVBx, fRightVBy),
      ],
    },
    options: {
      responsive: false,
      animation: false,
      events: [],
      layout: { padding: 0 },
      plugins: { legend: { display: false }, tooltip: { enabled: false } },
      scales: {
        x: { type: 'linear', min: 0, max: 100, display: false },
        y: { type: 'linear', min: 0, max: 100, display: false },
      },
    },
    plugins: [decoPlugin({
      label: '(f)', lx: 18, ly: 11,
      fills: [
        { index: 0, color: '#c2c2c2' },
        { index: 1, color: '#c2c2c2' },
        { index: 2, color: '#c2c2c2' },
        { index: 3, color: '#c2c2c2' },
      ],
      ann: [
        A('y', 24.5, 11.1, 24.5, 94.0, { color: axisGrey, lw: 4, hs: 11, under: true }),
        A('y', 59.5, 11.1, 59.5, 94.0, { color: axisGrey, lw: 4, hs: 11, under: true }),
        A('y', 24.5, 75.8, 35.2, 75.8, { head: 'none', color: dark, lw: 1, dash: [3, 2] }),
        A('y', 24.5, 55.6, 44.0, 55.6, { head: 'none', color: dark, lw: 1, dash: [3, 2] }),
        A('y', 40.9, 47.8, 70.8, 47.8, { head: 'none', color: dark, lw: 1, dash: [3, 2] }),
        A('y', 59.5, 68.6, 68.3, 68.6, { head: 'none', color: dark, lw: 1, dash: [3, 2] }),
        A('y', 33.1, 67.9, 33.1, 75.4, { color: dark, lw: 1, hs: 5 }),
        A('y', 33.1, 61.1, 33.1, 55.9, { color: dark, lw: 1, hs: 5 }),
        A('y', 41.9, 48.3, 41.9, 55.1, { color: dark, lw: 1, hs: 4, head: 'both' }),
        A('y', 64.9, 62.4, 64.9, 68.2, { color: dark, lw: 1, hs: 5 }),
        A('y', 64.9, 54.9, 64.9, 48.3, { color: dark, lw: 1, hs: 5 }),
        T('y', 34.9, 64.5, fGaps[0], { ...bf, align: 'center' }),
        T('y', 43.5, 51.5, fGaps[1], { ...bf }),
        T('y', 67.0, 57.7, fGaps[2], { ...bf, align: 'center' }),
        T('y', 74.0, 80.2, 'Conduction', { ...bf }),
        T('y', 74.0, 73.0, 'band', { ...bf }),
        T('y', 74.0, 43.3, 'Valence', { ...bf }),
        T('y', 74.0, 35.8, 'band', { ...bf }),
        T('y', 22.8, 6.4, 'Bi_2WO_6', { size: 17, bold: true, fam: CAL, align: 'center' }),
        T('y', 69.1, 6.4, 'Bi_2WO_6-graphene', { size: 17, bold: true, fam: CAL, align: 'center' }),
      ],
    })],
  };
};

// ---------------- components ----------------
function ChartCanvas({ left, top, w, h, make }: { left: number; top: number; w: number; h: number; make: () => any }) {
  const ref = useRef<HTMLCanvasElement>(null);
  useEffect(() => {
    if (!ref.current) return;
    const chart = new Chart(ref.current, make());
    return () => chart.destroy();
  }, []);
  return <canvas ref={ref} width={w} height={h} style={{ position: 'absolute', left, top, width: w, height: h }} />;
}

const rule = (left: number, top: number, width: number, height: number) => (
  <div style={{ position: 'absolute', left, top, width, height, background: '#e3e3e3' }} />
);

export default function App() {
  return (
    <div style={{ position: 'absolute', left: 0, top: 0, width: 642, height: 704, overflow: 'hidden', background: '#fff' }}>
      {rule(10, 234, 303, 1)}
      {rule(313, 0, 1, 460)}
      {rule(10, 459, 306, 1)}
      {rule(315, 460, 1, 244)}
      {rule(333, 233, 309, 1)}
      {rule(333, 233, 1, 227)}
      {rule(320, 460, 322, 1)}
      <ChartCanvas left={0} top={0} w={318} h={236} make={cfgA} />
      <ChartCanvas left={320} top={0} w={322} h={236} make={cfgB} />
      <ChartCanvas left={0} top={236} w={318} h={224} make={cfgC} />
      <ChartCanvas left={320} top={236} w={322} h={224} make={cfgD} />
      <ChartCanvas left={0} top={460} w={318} h={248} make={cfgE} />
      <ChartCanvas left={320} top={460} w={322} h={244} make={cfgF} />
    </div>
  );
}
